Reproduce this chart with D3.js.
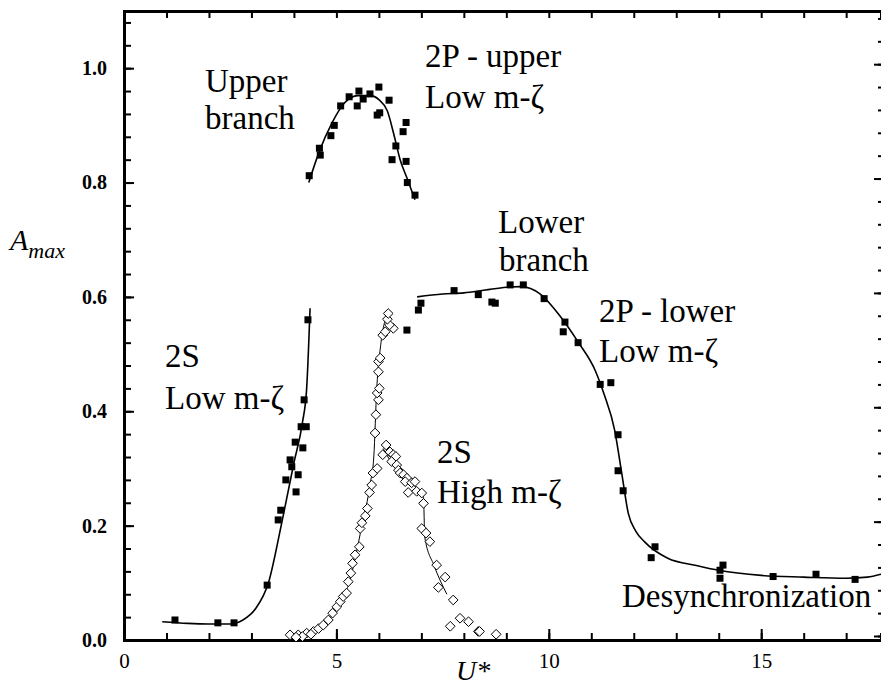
<!DOCTYPE html>
<html>
<head>
<meta charset="utf-8">
<script src="https://cdn.jsdelivr.net/npm/d3@7"></script>
<style>
  html, body { margin: 0; padding: 0; background: #fff; }
  svg { display: block; }
  svg text { font-family: "Liberation Serif", "Times New Roman", Times, Tinos, "DejaVu Serif", "Noto Serif", serif; fill: #000; }
</style>
</head>
<body>
<svg id="chart" width="881" height="689"></svg>
<script>
// ---------------- DATA ----------------
const xTickValues = [0, 5, 10, 15];
const xTickLabels = ["0", "5", "10", "15"];
const yTickValues = [0, 0.2, 0.4, 0.6, 0.8, 1.0];
const yTickLabels = ["0.0", "0.2", "0.4", "0.6", "0.8", "1.0"];

// 2S, low m-zeta (filled squares)
const s2LowX = [1.20, 2.21, 2.59, 3.37, 3.63, 3.69, 3.81, 4.05, 3.91, 3.95, 4.10, 4.03, 4.21, 4.17, 4.29, 4.24, 4.33];
const s2LowY = [0.035, 0.030, 0.030, 0.096, 0.210, 0.227, 0.280, 0.259, 0.315, 0.303, 0.289, 0.346, 0.336, 0.373, 0.373, 0.420, 0.560];
const s2LowFitX = [0.9, 1.5, 2.0, 2.5, 2.8, 3.1, 3.4, 3.7, 4.0, 4.2, 4.3, 4.38];
const s2LowFitY = [0.032, 0.029, 0.028, 0.028, 0.035, 0.055, 0.100, 0.200, 0.310, 0.380, 0.440, 0.580];

// 2P upper branch, low m-zeta (filled squares)
const upperX = [4.36, 4.62, 4.60, 4.87, 4.95, 5.10, 5.30, 5.49, 5.53, 5.63, 5.79, 6.00, 6.24, 5.96, 6.02, 6.64, 6.57, 6.40, 6.31, 6.64, 6.67, 6.85];
const upperY = [0.812, 0.848, 0.860, 0.882, 0.900, 0.934, 0.950, 0.934, 0.960, 0.946, 0.955, 0.967, 0.944, 0.918, 0.922, 0.905, 0.889, 0.864, 0.840, 0.837, 0.800, 0.778];
const upperFitX = [4.35, 4.6, 4.9, 5.2, 5.5, 5.8, 6.0, 6.2, 6.35, 6.5, 6.65, 6.85];
const upperFitY = [0.800, 0.855, 0.905, 0.940, 0.952, 0.952, 0.945, 0.925, 0.885, 0.840, 0.810, 0.770];

// 2P lower branch, low m-zeta (filled squares)
const lowerX = [6.66, 6.93, 6.99, 7.77, 8.34, 8.66, 8.74, 9.09, 9.40, 9.89, 10.38, 10.34, 10.69, 11.21, 11.46, 11.63, 11.63, 11.75, 12.50, 12.41, 14.10, 14.03, 14.03, 15.28, 16.29, 17.21];
const lowerY = [0.542, 0.577, 0.589, 0.611, 0.604, 0.591, 0.589, 0.621, 0.621, 0.597, 0.556, 0.539, 0.520, 0.447, 0.450, 0.359, 0.296, 0.261, 0.163, 0.144, 0.131, 0.122, 0.108, 0.111, 0.115, 0.106];
const lowerFitX = [6.9, 7.5, 8.0, 8.5, 9.0, 9.35, 9.8, 10.25, 10.7, 11.1, 11.3, 11.55, 11.72, 11.87, 12.05, 12.25, 12.8, 13.5, 14.0, 15.0, 16.0, 17.0, 17.5, 17.82];
const lowerFitY = [0.600, 0.605, 0.607, 0.612, 0.617, 0.618, 0.605, 0.568, 0.520, 0.470, 0.430, 0.367, 0.290, 0.222, 0.190, 0.172, 0.143, 0.130, 0.122, 0.113, 0.110, 0.108, 0.110, 0.115];

// 2S, high m-zeta (open diamonds)
const highX = [3.91, 4.10, 4.30, 4.46, 4.58, 4.69, 4.81, 4.91, 5.01, 5.09, 5.16, 5.24, 5.28, 5.34, 5.38, 5.44, 5.54, 5.56, 5.60, 5.68, 5.73, 5.78, 5.83, 5.86, 5.96, 5.91, 5.93, 5.99, 5.96, 6.01, 5.99, 5.99, 6.03, 6.09, 6.15, 6.34, 6.25, 6.20, 6.22,
               6.17, 6.09, 6.26, 6.34, 6.40, 6.30, 6.42, 6.46, 6.50, 6.58, 6.66, 6.62, 6.77, 6.85, 6.69, 6.89, 7.01, 7.05, 7.01, 7.11, 7.20, 7.36, 7.56, 7.40, 7.75, 7.68, 7.91, 8.11, 8.34, 8.37, 8.76, 4.20, 4.40, 4.05];
const highY = [0.009, 0.009, 0.012, 0.015, 0.020, 0.026, 0.035, 0.047, 0.058, 0.067, 0.076, 0.082, 0.102, 0.117, 0.134, 0.149, 0.163, 0.195, 0.205, 0.217, 0.230, 0.258, 0.271, 0.292, 0.300, 0.362, 0.394, 0.420, 0.432, 0.440, 0.469, 0.487, 0.493, 0.533, 0.539, 0.545, 0.551, 0.561, 0.571,
               0.341, 0.324, 0.329, 0.324, 0.321, 0.312, 0.306, 0.297, 0.292, 0.289, 0.283, 0.277, 0.275, 0.277, 0.258, 0.260, 0.257, 0.239, 0.195, 0.187, 0.172, 0.131, 0.110, 0.092, 0.070, 0.024, 0.038, 0.032, 0.015, 0.015, 0.010, 0.006, 0.010, 0.005];
const highUpFitX = [3.9, 4.5, 5.0, 5.3, 5.6, 5.8, 5.88, 5.95, 6.05, 6.2];
const highUpFitY = [0.006, 0.015, 0.055, 0.100, 0.200, 0.275, 0.320, 0.440, 0.520, 0.570];
const highDownFitX = [6.1, 6.3, 6.6, 6.9, 7.05, 7.08, 7.3, 7.6];
const highDownFitY = [0.335, 0.310, 0.285, 0.265, 0.250, 0.180, 0.130, 0.080];

// Annotations
const labelTexts = [
  ["Upper", 205, 92], ["branch", 205, 129],
  ["2P - upper", 425, 67], ["Low m-ζ", 425, 108],
  ["Lower", 498, 233], ["branch", 499, 271],
  ["2P - lower", 599, 322], ["Low m-ζ", 599, 362],
  ["2S", 165, 367], ["Low m-ζ", 165, 409],
  ["2S", 437, 463], ["High m-ζ", 437, 503],
  ["Desynchronization", 622, 607]
];

// ---------------- CHART ----------------
const svg = d3.select("#chart");
const x = d3.scaleLinear().domain([0, 17.82]).range([124, 881]);
const y = d3.scaleLinear().domain([0, 1.1]).range([640, 11]);

const zip = (a, b) => a.map((v, i) => [v, b[i]]);
const line = d3.line().x(d => x(d[0])).y(d => y(d[1])).curve(d3.curveMonotoneX);

function styleAxis(g, w) {
  g.select(".domain").attr("stroke", "#000").attr("stroke-width", w);
  g.selectAll(".tick line").attr("stroke", "#000").attr("stroke-width", 2);
  g.selectAll("text").attr("font-family", null);
}
const xMinor = d3.range(0, 18, 1);
const yMinor = d3.range(0, 1.1001, 0.04);

svg.append("g").attr("transform", "translate(0,640)")
  .call(d3.axisBottom(x).tickValues(xMinor).tickSize(-7).tickFormat(""))
  .call(g => styleAxis(g, 3));
svg.append("g").attr("transform", "translate(0,640)")
  .call(d3.axisBottom(x).tickValues(xTickValues).tickSizeInner(-11).tickSizeOuter(0).tickPadding(13)
    .tickFormat((d, i) => xTickLabels[i]))
  .call(g => styleAxis(g, 3))
  .call(g => g.selectAll("text").attr("font-size", 21));
svg.append("g").attr("transform", "translate(0,11)")
  .call(d3.axisTop(x).tickValues(xMinor).tickSize(-7).tickFormat(""))
  .call(g => styleAxis(g, 3));
svg.append("g").attr("transform", "translate(124,0)")
  .call(d3.axisLeft(y).tickValues(yMinor).tickSize(-7).tickFormat(""))
  .call(g => styleAxis(g, 3));
svg.append("g").attr("transform", "translate(124,0)")
  .call(d3.axisLeft(y).tickValues(yTickValues).tickSizeInner(-10).tickSizeOuter(0).tickPadding(17)
    .tickFormat((d, i) => yTickLabels[i]))
  .call(g => styleAxis(g, 3))
  .call(g => g.selectAll("text").attr("font-size", 20).attr("font-weight", "bold"));
svg.append("g").attr("transform", "translate(881,-4)")
  .call(d3.axisRight(y).tickValues(yMinor).tickSize(-3).tickFormat(""))
  .call(g => { g.select(".domain").remove(); g.selectAll(".tick line").attr("stroke", "#000").attr("stroke-width", 2); });
svg.append("g").attr("transform", "translate(881,-4)")
  .call(d3.axisRight(y).tickValues(yTickValues).tickSize(-7).tickFormat(""))
  .call(g => { g.select(".domain").remove(); g.selectAll(".tick line").attr("stroke", "#000").attr("stroke-width", 2); });

// axis titles
const ya = svg.append("text").attr("x", 10).attr("y", 250).attr("font-style", "italic").attr("font-size", 30);
ya.append("tspan").text("A");
ya.append("tspan").attr("font-size", 22).attr("dy", 8).text("max");
svg.append("text").attr("x", 456).attr("y", 680).attr("font-style", "italic").attr("font-size", 28).text("U*");

// fit lines
const fits = [
  [s2LowFitX, s2LowFitY, 1.6],
  [upperFitX, upperFitY, 1.6],
  [lowerFitX, lowerFitY, 1.6],
  [highUpFitX, highUpFitY, 1],
  [highDownFitX, highDownFitY, 1]
];
fits.forEach(([fx, fy, w]) => {
  svg.append("path").datum(zip(fx, fy)).attr("d", line)
    .attr("fill", "none").attr("stroke", "#000").attr("stroke-width", w);
});

// open diamonds
const dsym = d3.symbol().type(d3.symbolDiamond2).size(60);
svg.append("g").selectAll("path").data(zip(highX, highY)).join("path")
  .attr("d", dsym)
  .attr("transform", d => `translate(${x(d[0])},${y(d[1])})`)
  .attr("fill", "#fff").attr("stroke", "#000").attr("stroke-width", 1);

// filled squares
const squares = [].concat(zip(s2LowX, s2LowY), zip(upperX, upperY), zip(lowerX, lowerY));
svg.append("g").selectAll("rect").data(squares).join("rect")
  .attr("x", d => x(d[0]) - 3.5).attr("y", d => y(d[1]) - 3.5)
  .attr("width", 7).attr("height", 7).attr("fill", "#000");

// annotations
svg.append("g").selectAll("text").data(labelTexts).join("text")
  .attr("x", d => d[1]).attr("y", d => d[2])
  .attr("font-size", 33)
  .text(d => d[0]);
</script>
</body>
</html>
